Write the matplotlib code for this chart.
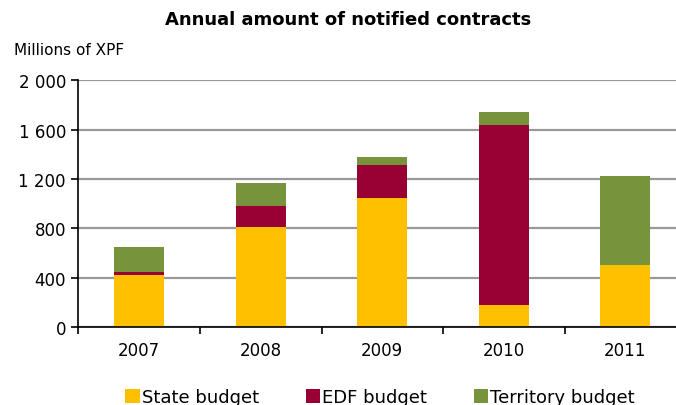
import numpy as np
import matplotlib.pyplot as plt

years = ['2007', '2008', '2009', '2010', '2011']
state = [420, 810, 1045, 175, 500]
edf = [30, 170, 265, 1465, 0]
territory = [195, 185, 65, 100, 720]

y_ticks = [0, 400, 800, 1200, 1600, 2000]
y_labels = ['0', '400', '800', '1 200', '1 600', '2 000']

c_state = '#FFC000'
c_edf = '#990033'
c_terr = '#77933C'

fig = plt.figure(figsize=(6.76, 4.06), dpi=100)
ax = fig.add_axes([0.116, 0.192, 0.899, 0.608])

x = np.arange(len(years))
w = 0.41
state = np.array(state)
edf = np.array(edf)
territory = np.array(territory)

ax.bar(x, state, w, color=c_state, label='State budget', zorder=3)
ax.bar(x, edf, w, bottom=state, color=c_edf, label='EDF budget', zorder=3)
ax.bar(x, territory, w, bottom=state + edf, color=c_terr, label='Territory budget', zorder=3)

ax.set_xlim(-0.5, len(years) - 0.5)
ax.set_ylim(0, 2000)
ax.set_yticks(y_ticks)
ax.set_yticklabels(y_labels, fontsize=12)
ax.set_xticks(x)
ax.set_xticklabels(years, fontsize=12)
ax.tick_params(axis='x', length=0, pad=10)
ax.set_xticks(np.arange(len(years) + 1) - 0.5, minor=True)
ax.tick_params(axis='x', which='minor', length=5, width=1.2, direction='out')
ax.tick_params(axis='y', length=5, width=1.2, direction='out', pad=4)

ax.grid(axis='y', color='#999999', linewidth=1.6, zorder=0)
for s in ['top', 'right']:
    ax.spines[s].set_visible(False)
for s in ['left', 'bottom']:
    ax.spines[s].set_linewidth(1.2)
    ax.spines[s].set_zorder(4)

fig.text(0.515, 0.95, 'Annual amount of notified contracts', ha='center', va='center',
         fontsize=13, fontweight='bold')
fig.text(0.02, 0.875, 'Millions of XPF', ha='left', va='center', fontsize=11)

fig.legend(loc='center', bbox_to_anchor=(0.562, 0.02), ncol=3, frameon=False,
           fontsize=13, handlelength=0.8, handleheight=0.8, handletextpad=0.1,
           columnspacing=2.6)

fig.savefig('out.png', dpi=100)
